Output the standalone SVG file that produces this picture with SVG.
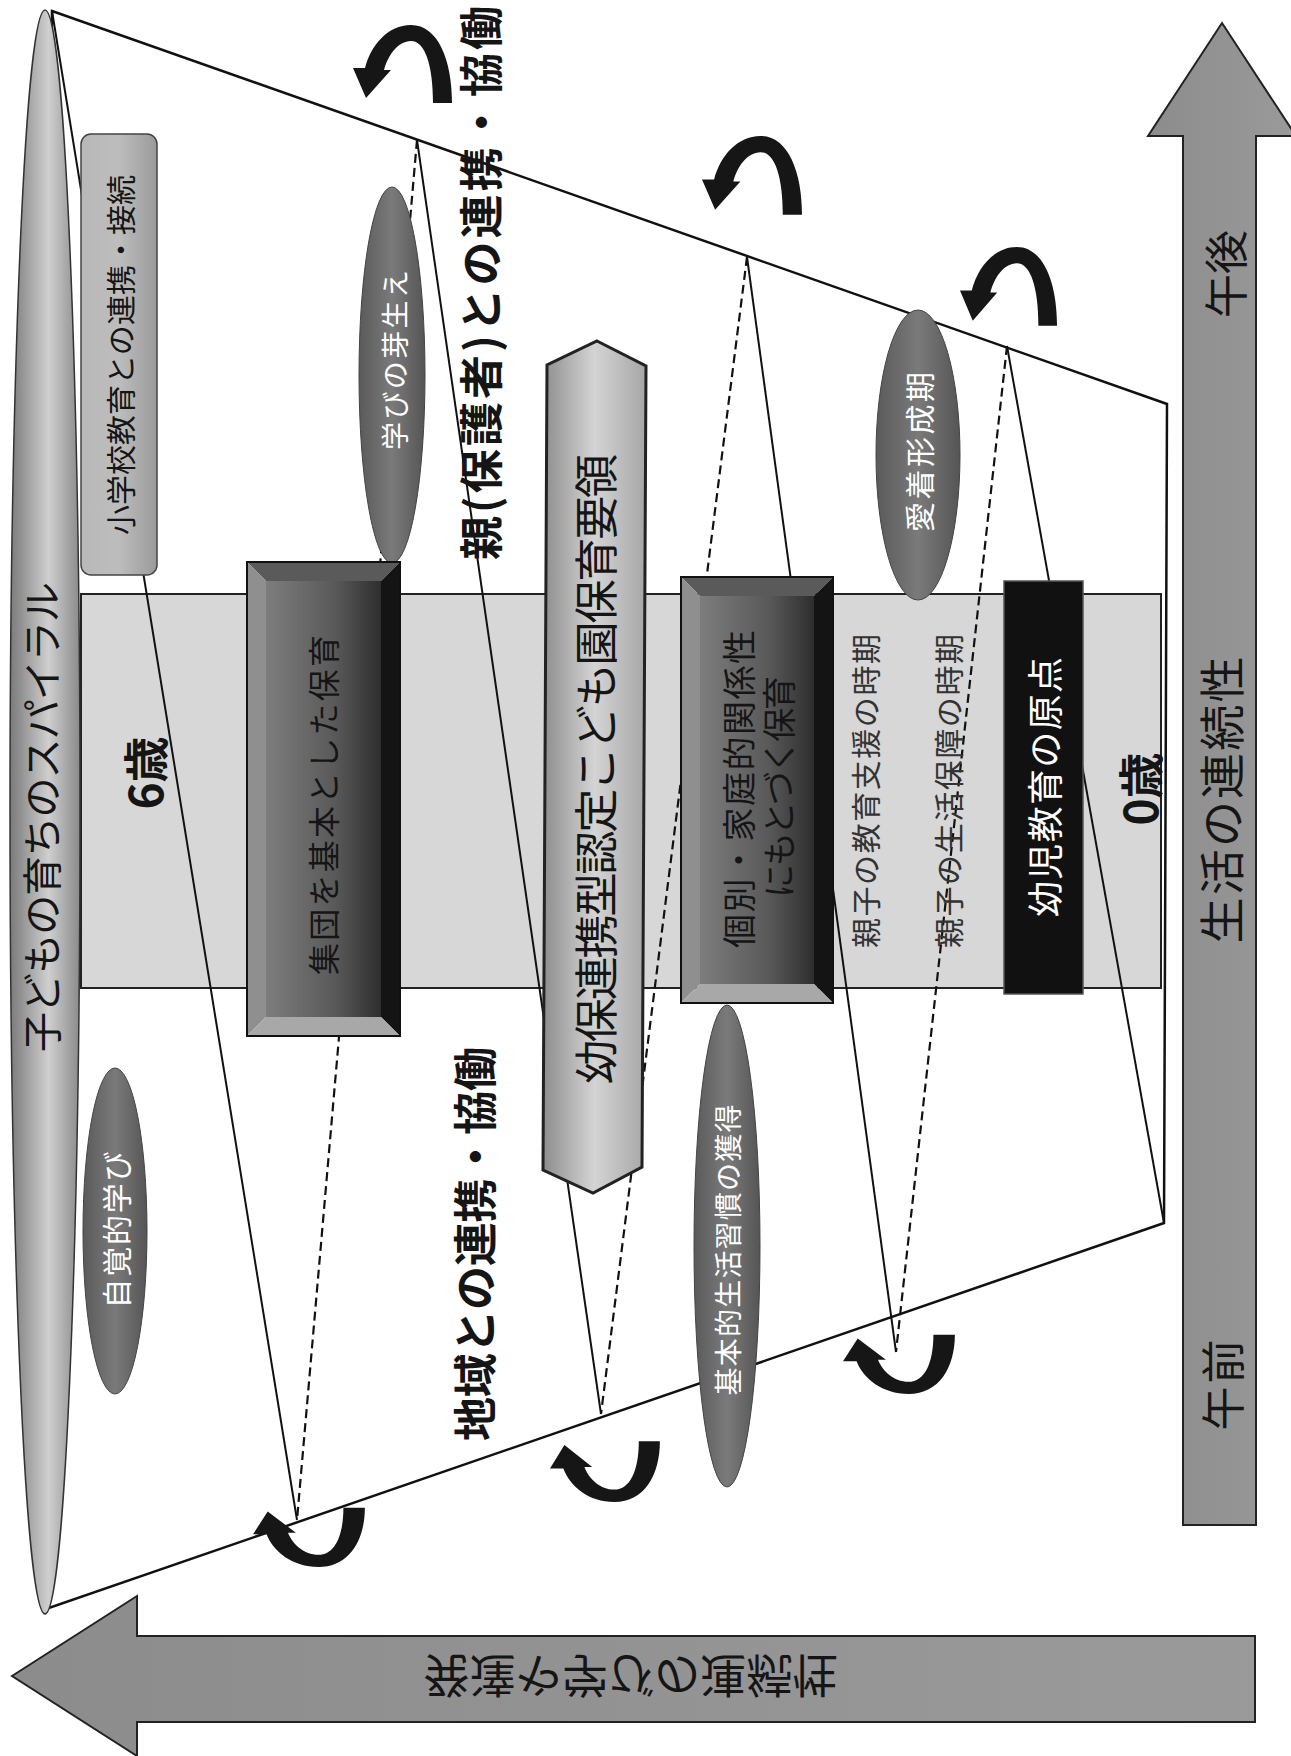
<svg xmlns="http://www.w3.org/2000/svg" xmlns:xlink="http://www.w3.org/1999/xlink" width="1291" height="1756" viewBox="0 0 1291 1756">
<style>
text{font-family:"Noto Sans CJK JP","Noto Sans",sans-serif;text-anchor:middle;dominant-baseline:central}
.dk{fill:#151515}
.wh{fill:#ffffff}
.gy{fill:#333333}
.b{font-weight:bold}
.ln{stroke:#111;stroke-width:2;fill:none}
.dash{stroke:#111;stroke-width:2.2;fill:none;stroke-dasharray:9 5}
.frame{stroke:#111;stroke-width:2.5;fill:none}
.ell{fill:url(#gEll);stroke:#444;stroke-width:1}
</style>
<defs>
<linearGradient id="gBig" x1="0" y1="0" x2="1" y2="0">
<stop offset="0" stop-color="#7a7a7a"/><stop offset="0.55" stop-color="#cfcfcf"/><stop offset="1" stop-color="#8a8a8a"/>
</linearGradient>
<linearGradient id="gEll" x1="0" y1="0" x2="1" y2="0">
<stop offset="0" stop-color="#5a5a5a"/><stop offset="0.5" stop-color="#7a7a7a"/><stop offset="1" stop-color="#555"/>
</linearGradient>
<linearGradient id="gBox" x1="0" y1="0" x2="1" y2="0">
<stop offset="0" stop-color="#b8b8b8"/><stop offset="0.5" stop-color="#bdbdbd"/><stop offset="1" stop-color="#9a9a9a"/>
</linearGradient>
<linearGradient id="gHex" x1="0" y1="0" x2="1" y2="0">
<stop offset="0" stop-color="#8d8d8d"/><stop offset="0.5" stop-color="#d4d4d4"/><stop offset="1" stop-color="#a6a6a6"/>
</linearGradient>
<linearGradient id="gFace" x1="0" y1="0" x2="1" y2="0">
<stop offset="0" stop-color="#7d7d7d"/><stop offset="0.6" stop-color="#595959"/><stop offset="1" stop-color="#2e2e2e"/>
</linearGradient>
<linearGradient id="gArrow" x1="0" y1="0" x2="1" y2="0">
<stop offset="0" stop-color="#8c8c8c"/><stop offset="1" stop-color="#9a9a9a"/>
</linearGradient>
<path id="uturn" d="M99,78 C99,35 85,0 58,0 C35,0 18,20 12,43 L0,43 L13,73 L38,45 L31,45 C35,30 45,16 58,16 C72,16 80,40 80,78 Z" fill="#161616"/>
</defs>
<rect width="1291" height="1756" fill="#ffffff"/>

<g id="axis-life">
<polygon points="1222,23 1296,136 1256,136 1256,1525 1183,1525 1183,136 1148,136" fill="url(#gArrow)" stroke="#222" stroke-width="2"/>
<text class="dk" font-size="44" transform="translate(1224,274) rotate(-90)" textLength="88">午後</text>
<text class="dk" font-size="46" transform="translate(1219,800) rotate(-90)" textLength="287">生活の連続性</text>
<text class="dk" font-size="44" transform="translate(1221,1385) rotate(-90)" textLength="91">午前</text>
</g>

<g id="axis-development">
<polygon points="12,1676 137,1596 137,1636 1255,1636 1255,1722 137,1722 137,1756" fill="url(#gArrow)" stroke="#222" stroke-width="2"/>
<text class="dk" font-size="46" transform="translate(631,1679) scale(1,-1)" textLength="415">発達や学びの連続性</text>
</g>

<g id="age-band">
<rect x="81" y="594" width="1080" height="394" fill="#d7d7d7" stroke="#222" stroke-width="2"/>
</g>

<g id="connectors">
<polygon class="frame" points="52,11 1167,404 1164,1223 46,1609"/>
<line class="ln" x1="52" y1="11" x2="297" y2="1520"/>
<line class="dash" x1="417" y1="140" x2="297" y2="1520"/>
<line class="ln" x1="417" y1="140" x2="601" y2="1414"/>
<line class="dash" x1="747" y1="257" x2="601" y2="1414"/>
<line class="ln" x1="747" y1="257" x2="896" y2="1352"/>
<line class="dash" x1="1007" y1="346" x2="896" y2="1352"/>
<line class="ln" x1="1007" y1="346" x2="1164" y2="1223"/>
<use xlink:href="#uturn" transform="translate(353,25)"/>
<use xlink:href="#uturn" transform="translate(702,136) scale(1.01,1.01)"/>
<use xlink:href="#uturn" transform="translate(960,247) scale(0.98,1.01)"/>
<use xlink:href="#uturn" transform="translate(253,1567) scale(1.13,-0.76)"/>
<use xlink:href="#uturn" transform="translate(550,1502) scale(1.11,-0.78)"/>
<use xlink:href="#uturn" transform="translate(843,1394) scale(1.13,-0.76)"/>
</g>

<g id="spiral">
<ellipse cx="45" cy="812" rx="35" ry="802" fill="url(#gBig)" stroke="#333" stroke-width="1.5"/>
<text class="dk" font-size="40" transform="translate(40,817) rotate(-90)" textLength="470">子どもの育ちのスパイラル</text>
</g>

<g id="age6">
<text class="dk b" font-size="46" transform="translate(143,773) rotate(-90)">6歳</text>
</g>
<g id="age0">
<text class="dk b" font-size="46" transform="translate(1138,789) rotate(-90)">0歳</text>
</g>

<g id="elementary">
<rect x="81" y="134" width="76" height="441" rx="10" fill="url(#gBox)" stroke="#444" stroke-width="1.5"/>
<text class="dk" font-size="30" transform="translate(119,355) rotate(-90)" textLength="360">小学校教育との連携・接続</text>
</g>

<g id="manabi-mebae">
<ellipse class="ell" cx="392" cy="375" rx="33" ry="188"/>
<text class="wh" font-size="28" transform="translate(394,360) rotate(-90)" textLength="180">学びの芽生え</text>
</g>

<g id="parents-label">
<text class="dk b" font-size="44" transform="translate(479,283) rotate(-90)" textLength="554">親(保護者)との連携・協働</text>
</g>

<g id="shudan">
<polygon points="247,562 400,562 381,581 266,581" fill="#5a5a5a"/>
<polygon points="247,562 266,581 266,1017 247,1036" fill="#8f8f8f"/>
<polygon points="400,562 400,1036 381,1017 381,581" fill="#141414"/>
<polygon points="247,1036 400,1036 381,1017 266,1017" fill="#a8a8a8"/>
<rect x="266" y="581" width="115" height="436" fill="url(#gFace)"/>
<rect x="247" y="562" width="153" height="474" fill="none" stroke="#111" stroke-width="2"/>
<text class="dk" font-size="32" transform="translate(322,805) rotate(-90)" textLength="340">集団を基本とした保育</text>
</g>

<g id="youho">
<polygon points="597,341 646,366 642,1167 593,1193 543,1170 547,365" fill="url(#gHex)" stroke="#222" stroke-width="3"/>
<text class="dk" font-size="44" transform="translate(594,769) rotate(-90)" textLength="630">幼保連携型認定こども園保育要領</text>
</g>

<g id="kobetsu">
<polygon points="681,577 833,577 814,596 700,596" fill="#5a5a5a"/>
<polygon points="681,577 700,596 700,984 681,1003" fill="#8f8f8f"/>
<polygon points="833,577 833,1003 814,984 814,596" fill="#141414"/>
<polygon points="681,1003 833,1003 814,984 700,984" fill="#a8a8a8"/>
<rect x="700" y="596" width="114" height="388" fill="url(#gFace)"/>
<rect x="681" y="577" width="152" height="426" fill="none" stroke="#111" stroke-width="2"/>
<text class="dk" font-size="34" transform="translate(737,789) rotate(-90)" textLength="318">個別・家庭的関係性</text>
<text class="dk" font-size="34" transform="translate(777,787) rotate(-90)" textLength="222">にもとづく保育</text>
</g>

<g id="kyoiku-shien">
<text class="gy" font-size="30" transform="translate(864,791) rotate(-90)" textLength="314">親子の教育支援の時期</text>
</g>
<g id="seikatsu-hosho">
<text class="gy" font-size="30" transform="translate(947,791) rotate(-90)" textLength="314">親子の生活保障の時期</text>
</g>

<g id="genten">
<rect x="1004" y="581" width="79" height="413" fill="#111" stroke="#555" stroke-width="1.5"/>
<text class="wh" font-size="36" transform="translate(1043,787) rotate(-90)" textLength="260">幼児教育の原点</text>
</g>

<g id="aichaku">
<ellipse class="ell" cx="918" cy="455" rx="42" ry="145"/>
<text class="wh" font-size="30" transform="translate(918,452) rotate(-90)" textLength="160">愛着形成期</text>
</g>

<g id="jikaku">
<ellipse class="ell" cx="115" cy="1231" rx="32" ry="163"/>
<text class="wh" font-size="30" transform="translate(115,1230) rotate(-90)" textLength="157">自覚的学び</text>
</g>

<g id="kihon-shukan">
<ellipse class="ell" cx="727" cy="1246" rx="33" ry="241"/>
<text class="wh" font-size="28" transform="translate(727,1250) rotate(-90)" textLength="291">基本的生活習慣の獲得</text>
</g>

<g id="community-label">
<text class="dk b" font-size="44" transform="translate(473,1244) rotate(-90)" textLength="394">地域との連携・協働</text>
</g>
</svg>
